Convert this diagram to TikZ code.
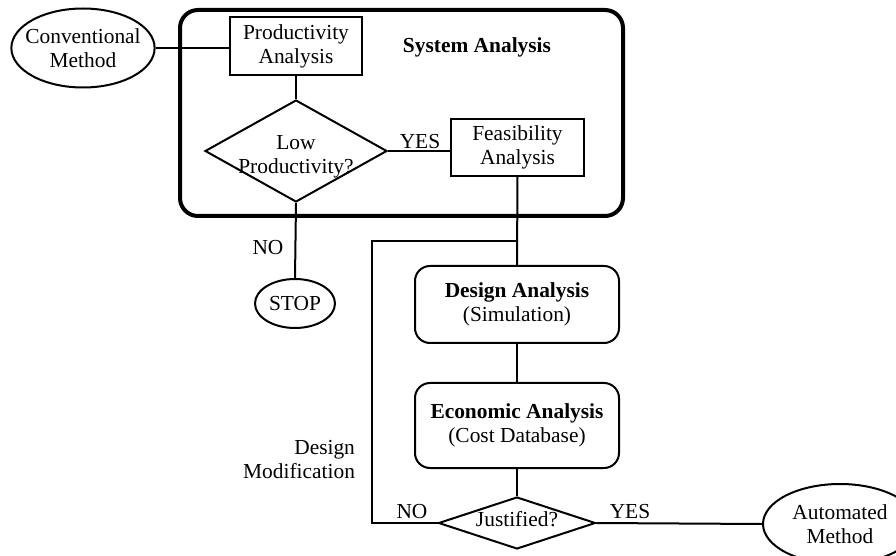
\documentclass[tikz,border=0pt]{standalone}
\usepackage{fontspec}
\setmainfont{Liberation Serif}
\usepackage{tikz}
\usetikzlibrary{positioning,shapes.geometric,calc}

\begin{document}
\begin{tikzpicture}[x=0.5pt,y=-0.5pt,font=\fontsize{10.7}{12}\selectfont,
    every node/.style={align=center},
    link/.style={line width=1pt},
    box/.style={draw,line width=0.8pt,rectangle,inner sep=0pt},
    rbox/.style={draw,line width=1pt,rectangle,rounded corners=7.5pt,inner sep=0pt},
    term/.style={draw,line width=1pt,ellipse,inner sep=0pt},
    decision/.style={draw,line width=1pt,diamond,inner sep=0pt}]
        \clip (0,0) rectangle (896,556);
        % system analysis frame
        \draw[line width=2pt,rounded corners=9pt] (180,10) rectangle (623,216);
        \node[font=\fontsize{10.7}{12}\selectfont\bfseries] (sys) at (477,47) {System Analysis};
        \node[term,inner xsep=-3.5pt,minimum width=71.5pt,minimum height=39.5pt] (conv) at (83,48) {Conventional\\Method};
        \node[box,minimum width=66pt,minimum height=29pt] (prod) at (296,46) {Productivity\\Analysis};
        \node[decision,minimum width=91pt,minimum height=51pt,
              label={[yshift=-3pt]center:Low\\Productivity?}] (low) at (296,151) {};
        \node[box,minimum width=66.5pt,minimum height=28.5pt] (feas) at (517.5,147.5) {Feasibility\\Analysis};
        \node[term,minimum width=40pt,minimum height=24.5pt] (stop) at (295,303.5) {STOP};
        \node[rbox,minimum width=102pt,minimum height=38.5pt] (design) at (517,304.5) {\textbf{Design Analysis}\\(Simulation)};
        \node[rbox,minimum width=102pt,minimum height=42.5pt] (econ) at (517,425.5) {\textbf{Economic Analysis}\\(Cost Database)};
        \node[decision,minimum width=78.5pt,minimum height=26pt,
              label={[yshift=2pt]center:Justified?}] (just) at (517,523) {};
        \node[term,minimum width=77pt,minimum height=40pt] (auto) at (840,524) {Automated\\Method};
        % labels
        \node (yes1) at (420,142) {YES};
        \node (no1) at (268,248) {NO};
        \node (no2) at (412,512) {NO};
        \node (yes2) at (630,512) {YES};
        \node[anchor=east,align=right] (mod) at (362,460) {Design\\Modification};
        % connectors
        \coordinate (fb) at (372,241);
        \coordinate (fbjoin) at (feas.south |- fb);
        \draw[link] (conv.east) -- (conv.east -| prod.west);
        \draw[link] (prod.south) -- (low.north);
        \draw[link] (low.east) -- (low.east -| feas.west);
        \draw[link] (low.south) -- (stop.north);
        \draw[link] (feas.south) -- (design.north);
        \draw[link] (design.south) -- (econ.north);
        \draw[link] (econ.south) -- (just.north);
        \draw[link] (just.east) -- (auto.west);
        \draw[link] (just.west) -| (fb) -- (fbjoin);
\end{tikzpicture}
\end{document}
